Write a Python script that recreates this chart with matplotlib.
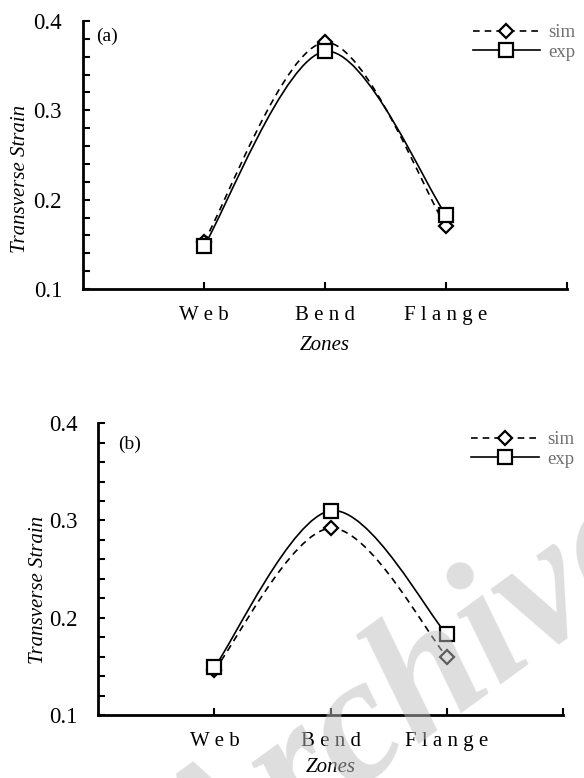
import numpy as np
import matplotlib
matplotlib.use("Agg")
import matplotlib.pyplot as plt
from matplotlib.path import Path
from matplotlib.patches import PathPatch
from matplotlib.lines import Line2D
from matplotlib.ticker import MultipleLocator, FixedLocator

plt.rcParams['font.family'] = ['Liberation Serif', 'DejaVu Serif']

zones = ["W e b", "B e n d", "F l a n g e"]
zone_pos = [1, 2, 3]
sim_a = [0.153, 0.376, 0.170]
exp_a = [0.148, 0.366, 0.183]
sim_b = [0.146, 0.292, 0.160]
exp_b = [0.149, 0.310, 0.183]

fig = plt.figure(figsize=(5.84, 7.78), dpi=100)


def smooth_path(ax, xs, ys):
    # Excel-like smoothed line (Catmull-Rom Bezier) computed in display space
    pts = ax.transData.transform(np.column_stack([xs, ys]))
    n = len(pts)
    verts = [pts[0]]
    codes = [Path.MOVETO]
    for i in range(n - 1):
        p0 = pts[i - 1] if i > 0 else pts[i]
        p1 = pts[i]
        p2 = pts[i + 1]
        p3 = pts[i + 2] if i + 2 < n else pts[i + 1]
        c1 = p1 + (p2 - p0) / 6.0
        c2 = p2 - (p3 - p1) / 6.0
        verts += [c1, c2, p2]
        codes += [Path.CURVE4] * 3
    verts = ax.transData.inverted().transform(np.array(verts))
    return Path(verts, codes)


def panel(rect, sim, exp, tag, tag_pos, ylab_pos, leg_anchor, xlab_pad):
    ax = fig.add_axes(rect)
    ax.patch.set_alpha(0)
    ax.set_xlim(0, 4)
    ax.set_ylim(0.1, 0.4)
    for s in ['top', 'right']:
        ax.spines[s].set_visible(False)
    for s in ['left', 'bottom']:
        ax.spines[s].set_linewidth(2.0)
    ax.yaxis.set_major_locator(MultipleLocator(0.1))
    ax.yaxis.set_minor_locator(MultipleLocator(0.02))
    ax.yaxis.set_major_formatter(plt.FuncFormatter(lambda v, p: f"{v:.1f}"))
    ax.tick_params(axis='y', which='both', direction='in', length=5, width=1.5,
                   labelsize=16.5, pad=15)
    ax.xaxis.set_major_locator(FixedLocator([1, 2, 3, 4]))
    ax.set_xticklabels(zones + [""])
    ax.tick_params(axis='x', which='both', direction='in', length=5, width=1.5,
                   labelsize=15, pad=12.5)
    fig.canvas.draw()
    for ys, ls in [(sim, (0, (4, 3))), (exp, '-')]:
        p = smooth_path(ax, zone_pos, ys)
        ax.add_patch(PathPatch(p, facecolor='none', edgecolor='black',
                               lw=1.2, linestyle=ls, zorder=2))
    ax.plot(zone_pos, sim, linestyle='none', marker='D', ms=7, mfc='white',
            mec='black', mew=1.6, zorder=3, clip_on=False)
    ax.plot(zone_pos, exp, linestyle='none', marker='s', ms=10, mfc='white',
            mec='black', mew=1.6, zorder=4, clip_on=False)
    ax.set_xlabel("Zones", fontsize=15, style='italic', labelpad=xlab_pad)
    ax.set_ylabel("Transverse Strain", fontsize=15, style='italic')
    ax.yaxis.set_label_coords(*ylab_pos)
    ax.text(tag_pos[0], tag_pos[1], tag, transform=ax.transAxes, fontsize=14,
            va='center', ha='left')
    handles = [Line2D([], [], color='black', lw=1.2, linestyle=(0, (4, 3)),
                      marker='D', ms=7, mfc='white', mec='black', mew=1.6),
               Line2D([], [], color='black', lw=1.2, linestyle='-',
                      marker='s', ms=10, mfc='white', mec='black', mew=1.6)]
    leg = fig.legend(handles, ['sim', 'exp'], loc='upper right',
                     bbox_to_anchor=leg_anchor, frameon=False, fontsize=13.5,
                     handlelength=3.6, handletextpad=0.43, labelspacing=0.12,
                     borderpad=0, borderaxespad=0)
    for t in leg.get_texts():
        t.set_color('#707070')
    return ax


panel([0.142, 0.6285, 0.829, 0.3445], sim_a, exp_a, "(a)", (0.027, 0.944),
      (-0.110, 0.41), (0.985, 0.969), 8)
panel([0.168, 0.081, 0.796, 0.375], sim_b, exp_b, "(b)", (0.043, 0.928),
      (-0.108, 0.43), (0.983, 0.446), 4.5)

fig.text(0.70, 0.095, "Archive", fontsize=130, style='italic', weight='bold',
         color=(0.74, 0.74, 0.74), alpha=0.5, rotation=36, ha='center',
         va='center', zorder=10)

fig.savefig("out.png", dpi=100)
